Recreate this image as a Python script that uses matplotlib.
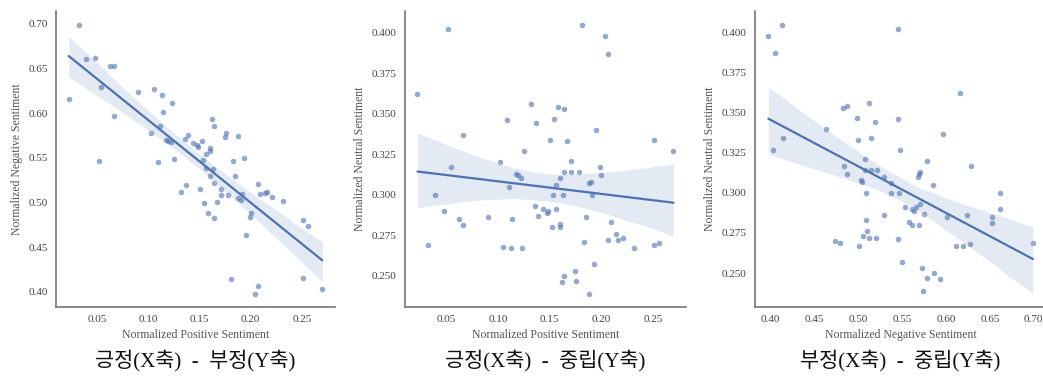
import numpy as np
import pandas as pd
import matplotlib
matplotlib.use("Agg")
import matplotlib.pyplot as plt
import seaborn as sns

# normalized sentiment shares per item
positive = [0.022, 0.032, 0.039, 0.048, 0.052, 0.054, 0.062, 0.066, 0.066, 0.090,
            0.102, 0.105, 0.109, 0.111, 0.113, 0.114, 0.117, 0.119, 0.122, 0.123,
            0.125, 0.132, 0.136, 0.137, 0.139, 0.144, 0.147, 0.148, 0.150, 0.152,
            0.153, 0.154, 0.156, 0.156, 0.158, 0.160, 0.160, 0.160, 0.162, 0.163,
            0.164, 0.164, 0.164, 0.167, 0.171, 0.171, 0.175, 0.176, 0.178, 0.183,
            0.185, 0.188, 0.188, 0.190, 0.191, 0.193, 0.195, 0.199, 0.200, 0.204,
            0.207, 0.207, 0.209, 0.214, 0.216, 0.221, 0.232, 0.251, 0.251, 0.256,
            0.270, 0.181]
negative = [0.616, 0.699, 0.661, 0.662, 0.546, 0.629, 0.653, 0.653, 0.597, 0.624,
            0.578, 0.627, 0.545, 0.585, 0.620, 0.601, 0.570, 0.569, 0.568, 0.611,
            0.548, 0.512, 0.571, 0.519, 0.575, 0.566, 0.564, 0.562, 0.515, 0.569,
            0.547, 0.499, 0.538, 0.554, 0.488, 0.558, 0.561, 0.530, 0.593, 0.537,
            0.483, 0.586, 0.522, 0.500, 0.508, 0.515, 0.573, 0.578, 0.508, 0.546,
            0.530, 0.574, 0.505, 0.503, 0.509, 0.550, 0.464, 0.484, 0.488, 0.398,
            0.406, 0.521, 0.509, 0.510, 0.512, 0.506, 0.501, 0.415, 0.480, 0.474,
            0.403, 0.414]
neutral = [0.362, 0.269, 0.300, 0.290, 0.402, 0.317, 0.285, 0.281, 0.337, 0.286,
           0.320, 0.268, 0.346, 0.305, 0.267, 0.285, 0.313, 0.312, 0.310, 0.267,
           0.327, 0.356, 0.293, 0.344, 0.287, 0.291, 0.289, 0.290, 0.334, 0.280,
           0.300, 0.347, 0.306, 0.291, 0.354, 0.282, 0.280, 0.310, 0.246, 0.300,
           0.353, 0.250, 0.314, 0.333, 0.321, 0.314, 0.253, 0.247, 0.314, 0.271,
           0.286, 0.239, 0.307, 0.308, 0.300, 0.257, 0.340, 0.317, 0.312, 0.398,
           0.387, 0.272, 0.283, 0.276, 0.272, 0.273, 0.267, 0.334, 0.269, 0.270,
           0.327, 0.405]

df = pd.DataFrame({"pos": positive, "neg": negative, "neu": neutral})

panels = [
    ("pos", "neg", "Normalized Positive Sentiment", "Normalized Negative Sentiment", "긍정(X축)  -  부정(Y축)"),
    ("pos", "neu", "Normalized Positive Sentiment", "Normalized Neutral Sentiment", "긍정(X축)  -  중립(Y축)"),
    ("neg", "neu", "Normalized Negative Sentiment", "Normalized Neutral Sentiment", "부정(X축)  -  중립(Y축)"),
]
# axes boxes in figure fractions [left, bottom, width, height]
boxes = [
    [0.0537, 0.1835, 0.2675, 0.787],
    [0.388, 0.1835, 0.270, 0.787],
    [0.724, 0.1835, 0.279, 0.787],
]

sns.set_theme(style="white")
plt.rcParams["font.family"] = ["Liberation Serif", "Noto Sans CJK KR"]

fig = plt.figure(figsize=(10.43, 3.76), dpi=100)

for (xcol, ycol, xlabel, ylabel, caption), box in zip(panels, boxes):
    ax = fig.add_axes(box)
    sns.regplot(data=df, x=xcol, y=ycol, ax=ax, seed=0,
                scatter_kws=dict(s=16, alpha=0.6, linewidths=0, color="#4c72b0"),
                line_kws=dict(lw=1.6, color="#4c72b0"))
    ax.set_xlabel(xlabel, fontsize=8.5, color="#555555", labelpad=3)
    ax.set_ylabel(ylabel, fontsize=8.5, color="#555555", labelpad=4)
    ax.tick_params(labelsize=8, colors="#444444", length=0, pad=6)
    for side in ("top", "right"):
        ax.spines[side].set_visible(False)
    for side in ("left", "bottom"):
        ax.spines[side].set_color("#777777")
        ax.spines[side].set_linewidth(1.2)
    cx = box[0] + box[2] / 2
    fig.text(cx, 0.042, caption, ha="center", va="center", fontsize=15,
             family=["Liberation Serif", "Noto Sans CJK KR"], color="#111111")

fig.savefig("out.png", dpi=100)
